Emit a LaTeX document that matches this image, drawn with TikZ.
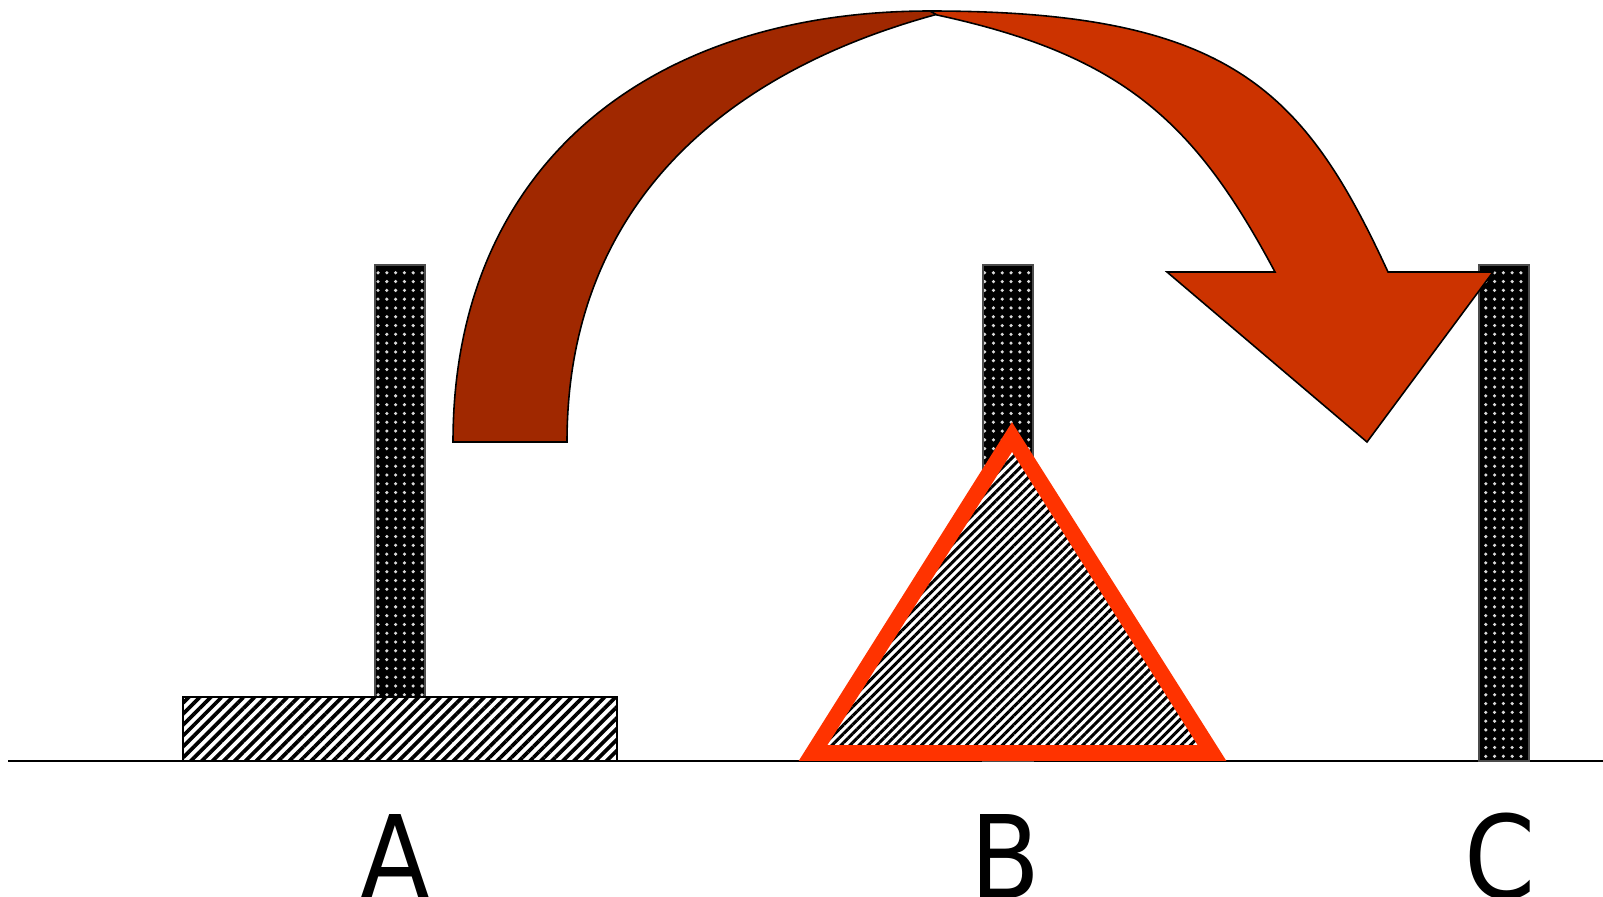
\documentclass[tikz,border=0pt]{standalone}
\usepackage{fontspec}
\setmainfont{DejaVu Sans}
\usetikzlibrary{patterns.meta}
\definecolor{backred}{HTML}{A02800}
\definecolor{frontred}{HTML}{CC3300}
\definecolor{ringred}{HTML}{FF3300}

\begin{document}
\begin{tikzpicture}[
  x=0.01cm, y=-0.01cm,
  peg/.style={draw=black!70, line width=0.3pt, preaction={fill=black},
    pattern={Dots[distance=2.5pt, radius=0.5pt]}, pattern color=white!85!black},
  disk/.style={draw=black, line width=0.5pt, preaction={fill=white},
    pattern={Lines[angle=45, distance=2.2pt, line width=1.05pt]}},
  ring/.style={draw=ringred, line width=4.5pt, miter limit=10, preaction={fill=white},
    pattern={Lines[angle=45, distance=1.8pt, line width=0.85pt]}},
  band/.style={draw=black, line width=0.45pt},
  pegname/.style={anchor=base, font=\fontsize{29}{34}\selectfont}
]
\useasboundingbox (0,0) rectangle (1603,897);

% ground
\draw[line width=0.45pt] (8,761) -- (1603,761);

% pegs
\path[peg] (375,265) rectangle (425,697);
\path[peg] (983,265) rectangle (1033,761);
\path[peg] (1479,265) rectangle (1529,761);

% disks
\path[disk] (183,697) rectangle (617,761);
\path[ring] (1012,437) -- (1212,753) -- (813,753) -- cycle;

% curved arrow
\path[band, fill=backred] (453,442) .. controls (453,165) and (650,11) .. (930,11)
  -- (938,14) .. controls (716,74) and (567,212) .. (567,442) -- cycle;
\path[band, fill=frontred] (930,11) .. controls (1230,11) and (1304,90) .. (1388,272)
  -- (1493,272) -- (1367,442) -- (1167,272) -- (1275,272)
  .. controls (1195,122) and (1123,55) .. (937,15) -- cycle;

% names
\node[pegname] (nameA) at (395,898) {\scalebox{1}[1.13]{A}};
\node[pegname] (nameB) at (1005,898) {\scalebox{1}[1.13]{B}};
\node[pegname] (nameC) at (1500,898) {\scalebox{1}[1.13]{C}};

\end{tikzpicture}
\end{document}
